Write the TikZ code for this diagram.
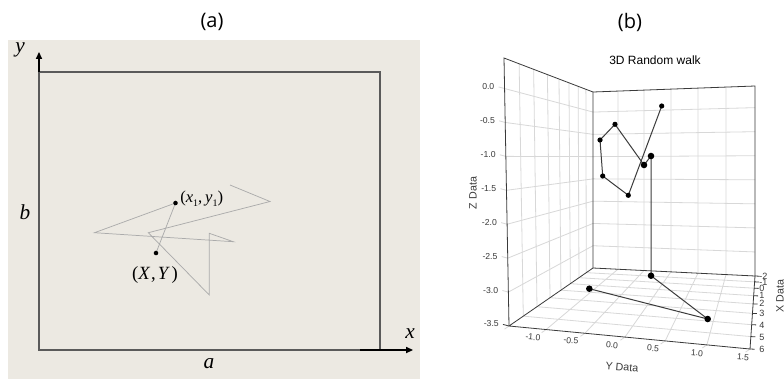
\documentclass[tikz,border=0pt]{standalone}
\usepackage{fontspec}
\setmainfont{Liberation Serif}
\newfontfamily\labfont{Open Sans}
\newfontfamily\arialf{Liberation Sans}
\usetikzlibrary{calc,arrows.meta}
\definecolor{bgbeige}{HTML}{ECE9E2}
\definecolor{framegray}{HTML}{5A5A5A}
\definecolor{walkgray}{HTML}{ABABAB}
\definecolor{gridgray}{HTML}{D8D8D8}
\definecolor{edgegray}{HTML}{3A3A3A}
\definecolor{datagray}{HTML}{3C3C3C}
\definecolor{ticktext}{HTML}{3A3A3A}
\newcommand{\sbone}{\raisebox{-0.4ex}{\fontsize{7.5}{8}\selectfont 1}}
\begin{document}
\begin{tikzpicture}[x=0.75pt,y=-0.75pt,
  frame/.style={draw=framegray,line width=1.5pt},
  axisarrow/.style={draw=black,line width=0.9pt,-{Triangle[length=5.2pt,width=4.6pt]}},
  walk/.style={draw=walkgray,line width=0.55pt},
  dotA/.style={circle,fill=black,inner sep=0pt,minimum size=3.4pt},
  mathlab/.style={font=\itshape\fontsize{16}{18}\selectfont},
  grid3/.style={draw=gridgray,line width=0.6pt},
  edge3/.style={draw=edgegray,line width=0.6pt},
  data3/.style={draw=datagray,line width=0.75pt},
  dsmall/.style={circle,fill=black,inner sep=0pt,minimum size=3.9pt},
  dbig/.style={circle,fill=black,inner sep=0pt,minimum size=4.9pt},
  tickl/.style={font=\arialf\fontsize{6.5}{7}\selectfont,text=ticktext,inner sep=0pt},
  axtitle/.style={font=\arialf\fontsize{8}{9}\selectfont,text=ticktext,inner sep=0pt}]
\fill[white] (0,0) rectangle (784,379);
\useasboundingbox (0,0) rectangle (784,379);

% ---------------- panel (a) ----------------
\fill[bgbeige] (8,40) rectangle (420,379);
\node[font=\labfont\fontsize{15}{17}\selectfont] (la) at (212,22) {(a)};
\draw[frame] (39,72) rectangle (380,350);
\coordinate (yb) at (39,72);
\coordinate (yt) at (39,52);
\coordinate (xb) at (360,350);
\coordinate (xt) at (413,350);
\draw[axisarrow] (yb) -- (yt);
\draw[axisarrow] (xb) -- (xt);
\node[mathlab] (ly) at (20,50) {y};
\node[mathlab] (lx) at (410,334) {x};
\node[mathlab] (lbb) at (25,212) {b};
\node[mathlab] (laa) at (209,364) {a};

\coordinate (w0) at (156,253);
\coordinate (w1) at (175.5,203);
\coordinate (w2) at (94.5,232.7);
\coordinate (w3) at (233.3,241.7);
\coordinate (w4) at (209.3,233.3);
\coordinate (w5) at (209.3,295);
\coordinate (w6) at (148.3,232.7);
\coordinate (w7) at (270,201.5);
\coordinate (w8) at (230,185);
\draw[walk] (w0) -- (w1) -- (w2) -- (w3) -- (w4) -- (w5) -- (w6) -- (w7) -- (w8);
\node[dotA] (d0) at (w0) {};
\node[dotA] (d1) at (w1) {};
\node[anchor=west,inner sep=0pt,font=\fontsize{12.5}{14}\selectfont] (l1) at (180,199)
  {(\textit{x}\sbone,\,\textit{y}\sbone)};
\node[inner sep=0pt,font=\fontsize{14}{16}\selectfont] (l0) at (155,275)
  {(\textit{X}\kern0.05em,\kern0.1em\textit{Y}\kern0.1em)};

% ---------------- panel (b) ----------------
\node[font=\labfont\fontsize{15}{17}\selectfont] (lb) at (630,22) {(b)};
\node[font=\arialf\fontsize{9}{11}\selectfont,text=black] (title) at (655,60) {3D Random walk};

% box corners
\coordinate (A) at (593,268);   % back-left bottom
\coordinate (B) at (509,326);   % front-left bottom
\coordinate (C) at (755,276);   % back-right bottom
\coordinate (D) at (750,349);   % front-right bottom
\coordinate (E) at (593,92);    % back-left top
\coordinate (F) at (504,58);    % front-left top
\coordinate (G) at (755,86);    % back-right top

% Z grid lines (left wall and back wall)
\foreach \k in {1,...,7} {
  \pgfmathsetmacro{\w}{\k*0.12658}
  \draw[grid3] ($(B)!\w!(F)$) -- ($(A)!\w!(E)$) -- ($(C)!\w!(G)$);
  \draw[grid3] ($(B)!\w!(F)$) -- ++(-6,-1.6);
}
% Y grid lines (floor and back wall)
\foreach \g in {0.154,0.315,0.481,0.648,0.821} {
  \draw[grid3] ($(B)!\g!(D)$) -- ($(A)!\g!(C)$) -- ($(E)!\g!(G)$);
  \draw[grid3] ($(B)!\g!(D)$) -- ++(-4.5,3.1);
}
\draw[grid3] (B) -- ++(-4.5,3.1);
\draw[grid3] (D) -- ++(-4.5,3.1);
% X grid lines (floor and left wall)
\foreach \f in {0.17,0.333,0.488,0.618,0.73,0.833,0.92} {
  \draw[grid3] ($(D)!\f!(C)$) -- ($(B)!\f!(A)$) -- ($(F)!\f!(E)$);
}
% X ticks on right edge
\foreach \f in {0,0.17,0.333,0.488,0.618,0.73,0.833,0.92,1} {
  \draw[edge3] ($(D)!\f!(C)$) -- ++(4.5,0.2);
}
\draw[edge3] (B) -- ++(-6,-1.6);

% box edges
\draw[edge3] (B) -- (F) -- (E) -- (A);
\draw[edge3] (E) -- (G) -- (C);
\draw[edge3] (B) -- (A) -- (C) -- (D) -- (B);

% Z tick labels
\foreach \k/\t in {0/-3.5,1/-3.0,2/-2.5,3/-2.0,4/-1.5,5/-1.0,6/-0.5,7/0.0} {
  \pgfmathsetmacro{\w}{\k*0.12658}
  \path ($(B)!\w!(F)$) ++(-10,-2) node[tickl,anchor=east] {\t};
}
% Y tick labels
\foreach \x/\y/\t in {533/337/-1.0,571/340.5/-0.5,612/345/0.0,653/348.5/0.5,697/353/1.0,743/357/1.5} {
  \node[tickl,rotate=-5] at (\x,\y) {\t};
}
% X tick labels
\foreach \y/\t in {276/-2,282/-1,288/0,295/1,303/2,313/3,325/4,337/5,349/6} {
  \node[tickl,anchor=west,font=\arialf\fontsize{6.8}{8}\selectfont] at (759,\y) {\t};
}
\node[axtitle,rotate=90] (zt) at (473,193) {Z Data};
\node[axtitle,rotate=-5] (yt3) at (622,367) {Y Data};
\node[axtitle,rotate=90] (xt3) at (780,296) {X Data};

% data points
\coordinate (p1) at (661.7,106);
\coordinate (p2) at (615,124.3);
\coordinate (p3) at (600,140);
\coordinate (p4) at (602.7,176);
\coordinate (p5) at (628.3,195.3);
\coordinate (p6) at (644,165);
\coordinate (p7) at (651,156);
\coordinate (p8) at (651,275.7);
\coordinate (p9) at (707.7,319);
\coordinate (p10) at (589.3,288.7);
\draw[data3] (p10) -- (p9) -- (p8) -- (p7) -- (p6) -- (p2) -- (p3) -- (p4) -- (p5) -- (p1);
\foreach \p in {p1,p2,p3,p4,p5} { \node[dsmall] (n\p) at (\p) {}; }
\foreach \p in {p6,p7,p8,p9,p10} { \node[dbig] (n\p) at (\p) {}; }
\end{tikzpicture}
\end{document}
